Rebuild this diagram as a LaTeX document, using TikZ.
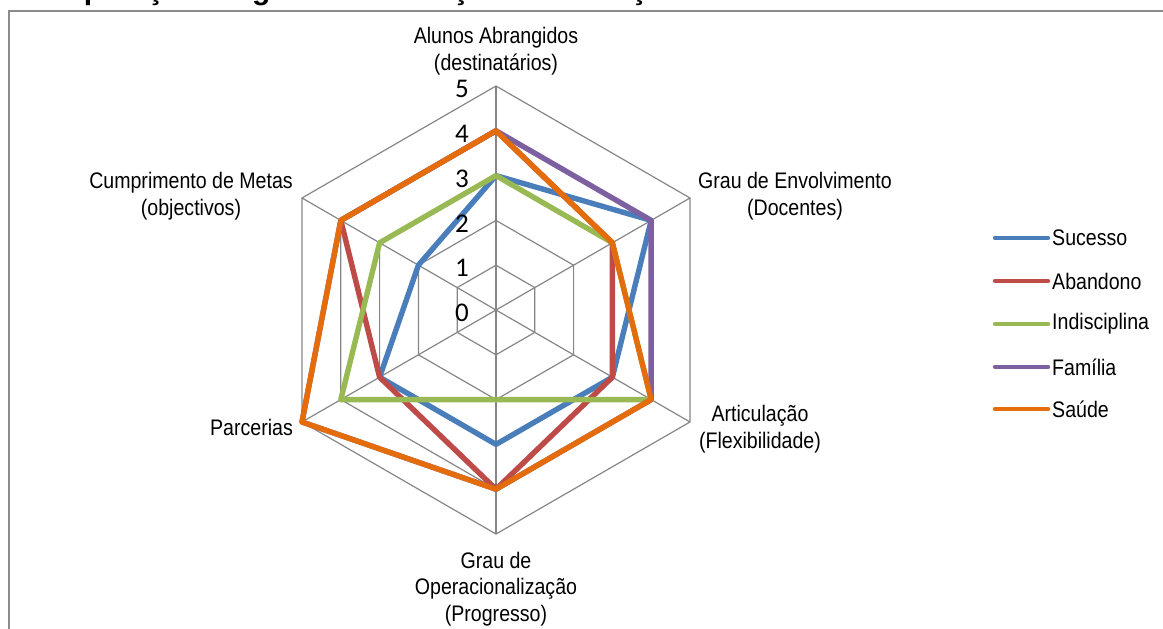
\documentclass[tikz,border=0pt]{standalone}
\usepackage{fontspec}
\setmainfont{Liberation Sans}
\newfontfamily\labfont[FakeStretch=0.87]{Liberation Sans}
\newfontfamily\tickfont{Carlito}
\usetikzlibrary{calc}
\definecolor{gridgray}{HTML}{868686}
\definecolor{framegray}{HTML}{8C8C8C}
\definecolor{cSuc}{HTML}{4A7EBB}
\definecolor{cAba}{HTML}{BE4B48}
\definecolor{cInd}{HTML}{98B954}
\definecolor{cFam}{HTML}{7D60A0}
\definecolor{cSau}{HTML}{E46C0A}
\tikzset{
  gridline/.style={draw=gridgray, line width=1.2},
  series/.style={line width=5.4, line join=round, line cap=round},
  legline/.style={line width=4.4, line cap=round},
  axislabel/.style={font=\labfont\fontsize{22.5}{26.5}\selectfont, align=center, inner sep=0pt},
  ticklabel/.style={font=\tickfont\fontsize{27}{30}\selectfont, inner sep=0pt},
  legtext/.style={font=\labfont\fontsize{22.5}{26}\selectfont, anchor=west, inner sep=0pt},
}
\begin{document}
\begin{tikzpicture}[x=1pt,y=1pt]
\useasboundingbox (0,0) rectangle (1163,629);
\clip (0,0) rectangle (1163,629);
% title (cropped at top edge)
\node[anchor=base west, inner sep=0pt, font=\bfseries\fontsize{30}{34}\selectfont] (title) at (17,629.5) {Comparação do grau de avaliação das 5 acções};
% frame
\draw[framegray, line width=2] (1180,618) -- (9,618) -- (9,-20);
% radar
\begin{scope}[shift={(496,319)}]
  \coordinate (C) at (0,0);
  \foreach \r in {44.8,89.6,134.4,179.2,224}{
    \draw[gridline] (90:\r) -- (30:\r) -- (-30:\r) -- (-90:\r) -- (210:\r) -- (150:\r) -- cycle;
  }
  \foreach \a in {90,30,-30,-90,210,150}{
    \draw[gridline] (C) -- (\a:224);
  }
  % series
  \draw[series, cSuc] (90:134.4) -- (30:179.2) -- (-30:134.4) -- (-90:134.4) -- (210:134.4) -- (150:89.6) -- cycle;
  \draw[series, cAba] (90:179.2) -- (30:134.4) -- (-30:134.4) -- (-90:179.2) -- (210:134.4) -- (150:179.2) -- cycle;
  \draw[series, cInd] (90:134.4) -- (30:134.4) -- (-30:179.2) -- (-90:89.6) -- (210:179.2) -- (150:134.4) -- cycle;
  \draw[series, cFam] (90:179.2) -- (30:179.2) -- (-30:179.2) -- (-90:179.2) -- (210:224) -- (150:179.2) -- cycle;
  \draw[series, cSau] (90:179.2) -- (30:134.4) -- (-30:179.2) -- (-90:179.2) -- (210:224) -- (150:179.2) -- cycle;
\end{scope}
% tick labels
\node[ticklabel] (t0) at (462,316) {0};
\node[ticklabel] (t1) at (462,360.8) {1};
\node[ticklabel] (t2) at (462,405.6) {2};
\node[ticklabel] (t3) at (462,450.4) {3};
\node[ticklabel] (t4) at (462,495.2) {4};
\node[ticklabel] (t5) at (462,540) {5};
% axis labels
\node[axislabel] (l1) at (496,578) {Alunos Abrangidos\\(destinatários)};
\node[axislabel] (l2) at (795,433) {Grau de Envolvimento\\(Docentes)};
\node[axislabel] (l3) at (760,200) {Articulação\\(Flexibilidade)};
\node[axislabel] (l4) at (496,40) {Grau de\\Operacionalização\\(Progresso)};
\node[axislabel, anchor=east] (l5) at (293,202) {Parcerias};
\node[axislabel] (l6) at (191,433) {Cumprimento de Metas\\(objectivos)};
% legend
\coordinate (ls1) at (995,391); \coordinate (le1) at (1048,391);
\coordinate (ls2) at (995,348); \coordinate (le2) at (1048,348);
\coordinate (ls3) at (995,305); \coordinate (le3) at (1048,305);
\coordinate (ls4) at (995,262); \coordinate (le4) at (1048,262);
\coordinate (ls5) at (995,220); \coordinate (le5) at (1048,220);
\draw[legline, cSuc] (ls1) -- (le1);
\draw[legline, cAba] (ls2) -- (le2);
\draw[legline, cInd] (ls3) -- (le3);
\draw[legline, cFam] (ls4) -- (le4);
\draw[legline, cSau] (ls5) -- (le5);
\node[legtext] (g1) at (1052,391) {Sucesso};
\node[legtext] (g2) at (1052,348) {Abandono};
\node[legtext] (g3) at (1052,305) {Indisciplina};
\node[legtext] (g4) at (1052,262) {Família};
\node[legtext] (g5) at (1052,220) {Saúde};
\end{tikzpicture}
\end{document}
